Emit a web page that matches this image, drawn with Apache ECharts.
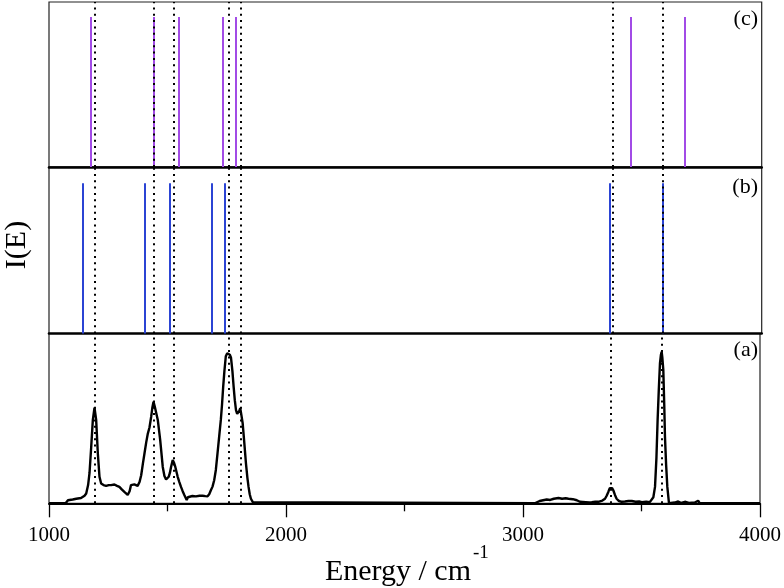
<!DOCTYPE html>
<html><head><meta charset="utf-8">
<script src="https://cdn.jsdelivr.net/npm/echarts@6/dist/echarts.min.js"></script>
<style>html,body{margin:0;padding:0;background:#fff}#c{width:784px;height:588px}</style>
</head><body><div id="c"></div>
<script>
// Experimental spectrum (a)
const energyA = [1000,1070,1080,1100,1115,1135,1150,1157,1165,1171,1178,1185,1192,1199,1206,1213,1220,1230,1241,1252,1262,1276,1287,1297,1308,1318,1332,1340,1346,1360,1374,1382,1389,1396,1403,1410,1417,1424,1431,1436,1441,1446,1452,1459,1469,1480,1487,1494,1500,1505,1510,1515,1522,1528,1533,1543,1550,1557,1564,1571,1581,1586,1592,1605,1620,1635,1648,1660,1669,1676,1683,1690,1697,1704,1711,1718,1725,1730,1735,1740,1746,1752,1758,1763,1768,1774,1779,1784,1789,1794,1799,1803,1807,1812,1817,1824,1831,1837,1842,1847,1852,1860,1866,3050,3055,3070,3085,3100,3115,3130,3150,3165,3180,3192,3210,3227,3240,3248,3265,3280,3290,3305,3318,3335,3346,3353,3360,3366,3371,3376,3381,3388,3395,3405,3416,3430,3445,3459,3475,3490,3501,3520,3535,3543,3550,3557,3563,3568,3573,3578,3582,3585,3588,3592,3596,3599,3604,3609,3616,3640,3655,3668,3683,3700,3725,3739,3745,3775,4000];
const intensityA = [0,0,0.02,0.025,0.03,0.035,0.05,0.065,0.12,0.2,0.37,0.55,0.63,0.55,0.33,0.175,0.13,0.12,0.115,0.12,0.12,0.124,0.115,0.108,0.09,0.075,0.055,0.08,0.12,0.125,0.115,0.14,0.185,0.26,0.33,0.4,0.46,0.5,0.57,0.63,0.67,0.64,0.63,0.55,0.42,0.24,0.18,0.157,0.16,0.175,0.2,0.24,0.285,0.265,0.24,0.175,0.14,0.108,0.08,0.055,0.022,0.04,0.042,0.048,0.046,0.05,0.05,0.047,0.046,0.06,0.086,0.11,0.152,0.22,0.33,0.44,0.55,0.65,0.77,0.87,0.97,0.99,0.99,0.98,0.96,0.87,0.77,0.68,0.615,0.59,0.587,0.61,0.627,0.58,0.53,0.4,0.263,0.17,0.108,0.06,0.03,0.008,0,0,0.01,0.015,0.02,0.025,0.022,0.03,0.035,0.03,0.033,0.03,0.027,0.02,0.01,0.005,0.008,0.006,0.007,0.01,0.01,0.018,0.03,0.05,0.075,0.1,0.108,0.1,0.086,0.055,0.03,0.015,0.01,0.012,0.015,0.015,0.01,0.012,0.007,0.01,0.008,0.01,0.04,0.108,0.3,0.55,0.75,0.925,0.98,1.0,0.96,0.88,0.65,0.44,0.25,0.108,0,0.005,0.012,0.002,0.01,0.003,0.005,0.017,0.003,0,0];
// Calculated stick spectra
const sticksB = [1143,1404,1508,1686,1740,3361,3583];
const sticksC = [1174,1440,1546,1731,1785,3448,3675];
const stickHeight = 1;
// Experimental peak positions (dotted guides)
const peaks = [1192,1441,1525,1758,1808,3372,3585];
const xTicks = [1000,2000,3000,4000];
const panelLabels = ['(c)','(b)','(a)'];

const serif = 'Liberation Serif';
const L = 49, R = 784 - 761.7;
const grids = [
  {left:L, right:R, top:2, height:165},
  {left:L, right:R, top:167, height:166.5},
  {left:L, right:R, top:333.5, height:169.8}
].map(g => Object.assign(g, {show:true, borderColor:'#222', borderWidth:1.2, backgroundColor:'transparent'}));

function xAx(i, bottom){
  return {
    type:'value', gridIndex:i, min:1000, max:4000, interval:1000,
    axisLine:{show:true, onZero:false, lineStyle:{color:'#000', width:bottom?2:2.6}},
    axisTick:{show:bottom, length:14, lineStyle:{color:'#000', width:1.3}},
    minorTick:{show:bottom, splitNumber:2, length:8, lineStyle:{color:'#000', width:1.3}},
    axisLabel:{show:bottom, fontFamily:serif, fontSize:21, color:'#000', margin:22,
      formatter: v => xTicks.indexOf(v) >= 0 ? String(v) : ''},
    splitLine:{show:false}
  };
}
function yAx(i, max){
  return {type:'value', gridIndex:i, min:0, max:max, show:false, splitLine:{show:false}};
}
const dotted = {
  silent:true, symbol:'none', label:{show:false},
  lineStyle:{color:'#000', width:2, type:[2,4.3]},
  data: peaks.map(p => ({xAxis:p}))
};
function sticks(arr, color, i){
  return {
    type:'line', xAxisIndex:i, yAxisIndex:i, data:[], showSymbol:false, z:3,
    markLine:{silent:true, symbol:'none', label:{show:false}, animation:false,
      lineStyle:{color:color, width:2, type:'solid'},
      data: arr.map(e => [{coord:[e,0]},{coord:[e,stickHeight]}])}
  };
}
function guides(i){
  return {type:'line', xAxisIndex:i, yAxisIndex:i, data:[], showSymbol:false, z:4,
    markLine:Object.assign({animation:false}, dotted)};
}

const lab = (t, y) => ({type:'text', x:758, y:y, style:{text:t, font:'22px "Liberation Serif"', fill:'#000', align:'right', verticalAlign:'middle'}});
const option = {
  animation:false,
  grid:grids,
  xAxis:[xAx(0,false), xAx(1,false), xAx(2,true)],
  yAxis:[yAx(0,1.1), yAx(1,1.108), yAx(2,1.12)],
  series:[
    sticks(sticksC, '#a24be6', 0),
    sticks(sticksB, '#2b44d4', 1),
    {type:'line', xAxisIndex:2, yAxisIndex:2, showSymbol:false, z:5,
     lineStyle:{color:'#000', width:2.4}, data: energyA.map((e,k)=>[e, intensityA[k]])},
    guides(0), guides(1), guides(2)
  ],
  graphic:[
    lab(panelLabels[0], 19), lab(panelLabels[1], 187), lab(panelLabels[2], 350),
    {type:'text', x:17, y:245, rotation:Math.PI/2, style:{text:'I(E)', font:'30px "Liberation Serif"', fill:'#000', align:'center', verticalAlign:'middle'}},
    {type:'text', x:471, y:572, style:{text:'Energy / cm', font:'30px "Liberation Serif"', fill:'#000', align:'right', verticalAlign:'middle'}},
    {type:'text', x:473, y:553, style:{text:'-1', font:'19px "Liberation Serif"', fill:'#000', align:'left', verticalAlign:'middle'}}
  ]
};
echarts.init(document.getElementById('c'), null, {renderer:'canvas'}).setOption(option);
</script></body></html>
